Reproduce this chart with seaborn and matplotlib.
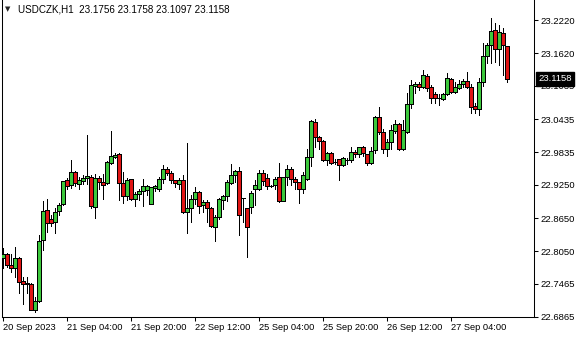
import matplotlib
matplotlib.use("Agg")
import matplotlib.pyplot as plt
import matplotlib.transforms as mtransforms
import numpy as np
import pandas as pd
import seaborn as sns

symbol = "USDCZK,H1"

open_ = [22.7936, 22.8008, 22.7810, 22.7756, 22.7936, 22.7522, 22.7486, 22.7468, 22.7000, 22.7162,
         22.8260, 22.8800, 22.8638, 22.8584, 22.8782, 22.8908, 22.9340, 22.9250, 22.9484, 22.9268,
         22.9322, 22.9376, 22.9394, 22.8854, 22.9376, 22.9304, 22.9286, 22.9646, 22.9754, 22.9808,
         22.9286, 22.9052, 22.9358, 22.8998, 22.9088, 22.9142, 22.9160, 22.8908, 22.9196, 22.9178,
         22.9358, 22.9538, 22.9466, 22.9340, 22.9268, 22.9340, 22.8764, 22.8836, 22.8998, 22.9124,
         22.8890, 22.8944, 22.8836, 22.8494, 22.8674, 22.8980, 22.9052, 22.9286, 22.9430, 22.9502,
         22.9016, 22.8836, 22.8854, 22.9178, 22.9178, 22.9466, 22.9376, 22.9232, 22.9250, 22.9394,
         22.8962, 22.9394, 22.9538, 22.9358, 22.9304, 22.9178, 22.9358, 22.9754, 23.0384, 23.0114,
         23.0042, 22.9700, 22.9826, 22.9664, 22.9718, 22.9610, 22.9700, 22.9700, 22.9844, 22.9808,
         22.9934, 22.9808, 22.9646, 22.9880, 23.0474, 23.0204, 22.9898, 23.0024, 23.0222, 23.0348,
         22.9898, 23.0204, 23.0708, 23.1032, 23.1068, 23.1014, 23.1212, 23.1014, 23.0888, 23.0816,
         23.0798, 23.0888, 23.1158, 23.0924, 23.0996, 23.1068, 23.1122, 23.1014, 23.0672, 23.0618,
         23.1104, 23.1572, 23.1770, 23.2040, 23.1698, 23.1986, 23.1756]
high = [22.8116, 22.8026, 22.8008, 22.8134, 22.7954, 22.7594, 22.7594, 22.7486, 22.7234, 22.8350,
        22.8962, 22.8998, 22.8710, 22.8836, 22.8926, 22.9322, 22.9376, 22.9700, 22.9502, 22.9394,
        22.9430, 23.0150, 22.9430, 22.9448, 22.9412, 22.9448, 22.9682, 23.0222, 22.9826, 22.9826,
        22.9484, 22.9376, 22.9358, 22.9124, 22.9178, 22.9358, 22.9250, 22.9214, 22.9250, 22.9394,
        22.9610, 22.9574, 22.9502, 22.9340, 22.9376, 22.9430, 23.0006, 22.9070, 22.9214, 22.9142,
        22.8980, 22.8980, 22.8854, 22.8710, 22.9016, 22.9070, 22.9340, 22.9628, 22.9520, 22.9574,
        22.9016, 22.8836, 22.9142, 22.9340, 22.9520, 22.9520, 22.9448, 22.9250, 22.9394, 22.9646,
        22.9394, 22.9610, 22.9574, 22.9394, 22.9304, 22.9484, 22.9898, 23.0420, 23.0438, 23.0132,
        23.0060, 22.9844, 22.9844, 22.9718, 22.9718, 22.9754, 22.9736, 22.9934, 22.9880, 22.9934,
        22.9952, 22.9808, 22.9934, 23.0492, 23.0654, 23.0258, 23.0078, 23.0330, 23.0420, 23.0366,
        23.0420, 23.0906, 23.1140, 23.1104, 23.1104, 23.1320, 23.1248, 23.1050, 23.0924, 23.0888,
        23.0906, 23.1266, 23.1176, 23.1104, 23.1140, 23.1158, 23.1284, 23.1068, 23.0726, 23.1176,
        23.1806, 23.1806, 23.2256, 23.2166, 23.2130, 23.2076, 23.1758]
low = [22.7756, 22.7774, 22.7684, 22.7594, 22.7306, 22.7108, 22.7306, 22.7000, 22.6964, 22.7144,
       22.8080, 22.8404, 22.8512, 22.8386, 22.8710, 22.8890, 22.9178, 22.9196, 22.9232, 22.9178,
       22.9268, 22.9268, 22.8836, 22.8656, 22.9178, 22.8998, 22.9268, 22.9628, 22.9736, 22.8980,
       22.8926, 22.8980, 22.8980, 22.8872, 22.8980, 22.8872, 22.9070, 22.8908, 22.9142, 22.9142,
       22.9286, 22.9430, 22.9286, 22.9214, 22.9178, 22.8746, 22.8386, 22.8584, 22.8908, 22.8746,
       22.8764, 22.8584, 22.8494, 22.8242, 22.8638, 22.8818, 22.8962, 22.9268, 22.9304, 22.8350,
       22.8584, 22.7954, 22.8746, 22.8890, 22.9160, 22.9250, 22.9178, 22.9214, 22.9178, 22.8944,
       22.8962, 22.9250, 22.9250, 22.9178, 22.8926, 22.9106, 22.9340, 22.9592, 22.9934, 22.9898,
       22.9682, 22.9610, 22.9628, 22.9628, 22.9340, 22.9592, 22.9628, 22.9664, 22.9754, 22.9754,
       22.9772, 22.9610, 22.9628, 22.9826, 23.0168, 22.9826, 22.9772, 22.9898, 23.0186, 22.9880,
       22.9880, 23.0186, 23.0636, 23.0906, 23.0960, 23.0996, 23.0942, 23.0726, 23.0726, 23.0690,
       23.0780, 23.0870, 23.0906, 23.0906, 23.0978, 23.1014, 23.0996, 23.0546, 23.0546, 23.0510,
       23.1032, 23.1446, 23.1446, 23.1464, 23.1410, 23.1230, 23.1097]
close = [22.8008, 22.7810, 22.7756, 22.7936, 22.7504, 22.7468, 22.7468, 22.7000, 22.7162, 22.8242,
         22.8782, 22.8566, 22.8566, 22.8764, 22.8890, 22.9322, 22.9232, 22.9484, 22.9286, 22.9340,
         22.9376, 22.9412, 22.8872, 22.9376, 22.9304, 22.9250, 22.9664, 22.9772, 22.9790, 22.9286,
         22.9052, 22.9340, 22.8998, 22.9088, 22.9142, 22.9232, 22.9232, 22.9214, 22.9232, 22.9358,
         22.9538, 22.9466, 22.9340, 22.9286, 22.9340, 22.8764, 22.8836, 22.8998, 22.9124, 22.8872,
         22.8944, 22.8836, 22.8512, 22.8674, 22.8998, 22.9052, 22.9304, 22.9430, 22.9502, 22.8710,
         22.9016, 22.8494, 22.9106, 22.9250, 22.9466, 22.9322, 22.9232, 22.9232, 22.9358, 22.8962,
         22.9394, 22.9538, 22.9358, 22.9304, 22.9178, 22.9430, 22.9754, 23.0402, 23.0114, 23.0042,
         22.9700, 22.9826, 22.9646, 22.9664, 22.9610, 22.9736, 22.9700, 22.9844, 22.9808, 22.9934,
         22.9826, 22.9646, 22.9862, 23.0474, 23.0204, 22.9898, 23.0024, 23.0240, 23.0348, 22.9898,
         23.0240, 23.0708, 23.1050, 23.1068, 23.1014, 23.1230, 23.0996, 23.0816, 23.0816, 23.0816,
         23.0888, 23.1176, 23.0924, 23.1014, 23.1068, 23.1122, 23.1014, 23.0654, 23.0618, 23.1104,
         23.1572, 23.1770, 23.2022, 23.1698, 23.2004, 23.1770, 23.1158]

ytick_values = [22.6865, 22.7465, 22.8050, 22.8650, 22.9250, 22.9835, 23.0435, 23.1035, 23.1620, 23.2220]
ytick_labels = ["22.6865", "22.7465", "22.8050", "22.8650", "22.9250", "22.9835", "23.0435",
                "23.1035", "23.1620", "23.2220"]
xtick_bars = [0, 16, 32, 48, 64, 80, 96, 112]
xtick_labels = ["20 Sep 2023", "21 Sep 04:00", "21 Sep 20:00", "22 Sep 12:00",
                "25 Sep 04:00", "25 Sep 20:00", "26 Sep 12:00", "27 Sep 04:00"]

sns.set_theme(style="white")
plt.rcParams["font.family"] = ["Liberation Sans", "DejaVu Sans"]

df = pd.DataFrame({"o": open_, "h": high, "l": low, "c": close})
df["bar"] = np.arange(len(df))
df["up"] = df["c"] >= df["o"]

W, H = 580, 340
fig = plt.figure(figsize=(W / 100, H / 100), dpi=100)
fig.patch.set_facecolor("white")
ax = fig.add_axes([2 / W, 23 / H, 532 / W, 317 / H])
ax.set_facecolor("white")

ax.vlines(df["bar"], df["l"], df["h"], color="black", linewidth=0.72, zorder=2, antialiased=False)
colors = np.where(df["up"], "#3cc83c", "#e01414")
bottom = np.minimum(df["o"], df["c"])
height = np.abs(df["c"] - df["o"])
ax.bar(df["bar"], height, bottom=bottom, width=0.8, color=colors,
       edgecolor="black", linewidth=0.5, zorder=3, antialiased=False)

ax.set_xlim(-0.25, 132.75)
ax.set_ylim(22.6865, 23.2581)

ax.yaxis.tick_right()
ax.set_yticks(ytick_values)
ax.set_yticklabels(ytick_labels)
ax.tick_params(axis="y", which="both", direction="out", length=3, width=0.75,
               pad=1.5, labelsize=6.8, colors="black", left=False, right=True)
ax.set_xticks(xtick_bars)
ax.set_xticklabels(xtick_labels, ha="left")
ax.tick_params(axis="x", direction="out", length=3, width=0.75, pad=1.5,
               labelsize=6.7, colors="black", bottom=True)
for lab in ax.get_xticklabels():
    lab.set_horizontalalignment("left")

ax.spines["top"].set_visible(False)
for s in ["left", "right", "bottom"]:
    ax.spines[s].set_color("black")
    ax.spines[s].set_linewidth(0.75)
ax.grid(False)

# current price label
trans = mtransforms.blended_transform_factory(ax.transAxes, ax.transData)
last = close[-1]
ax.text((538 - 2) / 532, last, f"{last:.4f}", transform=trans, color="white",
        fontsize=6.8, va="center", ha="left", zorder=10, clip_on=False,
        bbox=dict(boxstyle="square,pad=0.25", facecolor="black", edgecolor="black"))

# header
fig.text(5 / W, 1 - 9.5 / H, "\u25BC", fontsize=5, family="DejaVu Sans", va="center", ha="left")
header = f"{symbol}  {open_[-1]:.4f} {high[-1]:.4f} {low[-1]:.4f} {close[-1]:.4f}"
fig.text(18 / W, 1 - 10 / H, header, fontsize=7.1, va="center", ha="left", color="black")

fig.savefig("out.png", dpi=100, facecolor="white")
